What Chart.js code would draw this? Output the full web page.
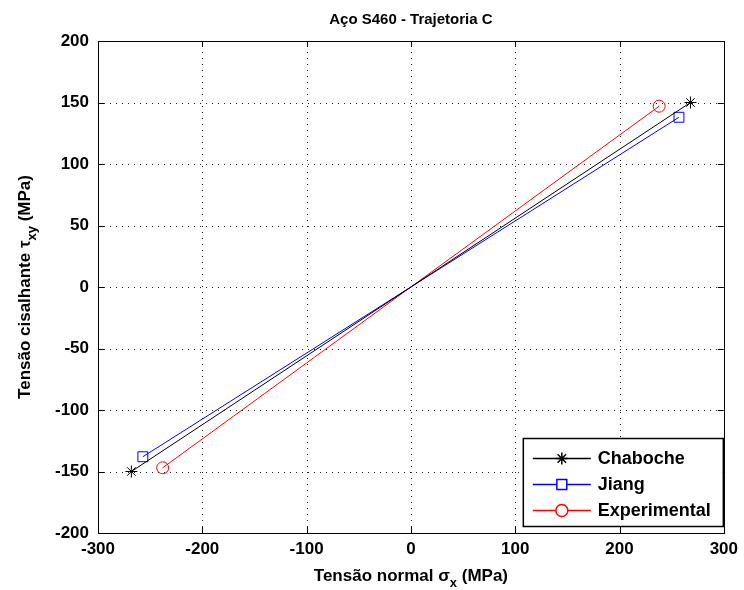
<!DOCTYPE html>
<html><head><meta charset="utf-8">
<script src="https://cdn.jsdelivr.net/npm/chart.js@4"></script>
<style>html,body{margin:0;padding:0;background:#fff}#wrap{width:744px;height:590px}</style>
</head><body><div id="wrap"><canvas id="c" width="744" height="590"></canvas></div>
<script>
const seriesNames = ['Chaboche', 'Jiang', 'Experimental'];
const chabocheX = [-268, 268];
const chabocheY = [-150, 150];
const jiangX = [-257, 257];
const jiangY = [-138, 138];
const expX = [-238, 238];
const expY = [-147, 147];
const xTicks = [-300, -200, -100, 0, 100, 200, 300];
const yTicks = [-200, -150, -100, -50, 0, 50, 100, 150, 200];
const titleText = 'Aço S460 - Trajetoria C';

const FONT = '"Liberation Sans", Arial, sans-serif';
const toPts = (xs, ys) => xs.map((x, i) => ({x, y: ys[i]}));

const gridPlugin = {
  id: 'gridPlugin',
  beforeDatasetsDraw(chart) {
    const {ctx, chartArea: a, scales: {x, y}} = chart;
    ctx.save();
    ctx.strokeStyle = '#222'; ctx.lineWidth = 1;
    ctx.setLineDash([1, 5]);
    ctx.beginPath();
    xTicks.forEach(v => {
      const px = Math.round(x.getPixelForValue(v)) + 0.5;
      ctx.moveTo(px, a.bottom); ctx.lineTo(px, a.top);
    });
    yTicks.forEach(v => {
      const py = Math.round(y.getPixelForValue(v)) + 0.5;
      ctx.moveTo(a.left, py); ctx.lineTo(a.right, py);
    });
    ctx.stroke();
    ctx.restore();
  }
};

const inwardTicks = {
  id: 'inwardTicks',
  afterDatasetsDraw(chart) {
    const {ctx, chartArea: a, scales: {x, y}} = chart;
    ctx.save();
    ctx.strokeStyle = '#000'; ctx.lineWidth = 1;
    ctx.beginPath();
    xTicks.forEach(v => {
      const px = Math.round(x.getPixelForValue(v)) + 0.5;
      ctx.moveTo(px, a.bottom); ctx.lineTo(px, a.bottom - 6);
      ctx.moveTo(px, a.top); ctx.lineTo(px, a.top + 6);
    });
    yTicks.forEach(v => {
      const py = Math.round(y.getPixelForValue(v)) + 0.5;
      ctx.moveTo(a.left, py); ctx.lineTo(a.left + 6, py);
      ctx.moveTo(a.right, py); ctx.lineTo(a.right - 6, py);
    });
    ctx.stroke();
    ctx.strokeRect(Math.round(a.left) + 0.5, Math.round(a.top) + 0.5, Math.round(a.right - a.left), Math.round(a.bottom - a.top));
    ctx.restore();
  }
};

const texts = {
  id: 'texts',
  afterDraw(chart) {
    const {ctx, chartArea: a} = chart;
    ctx.save();
    ctx.fillStyle = '#000';
    ctx.textBaseline = 'alphabetic';
    ctx.font = 'bold 15px ' + FONT;
    ctx.textAlign = 'center';
    ctx.fillText(titleText, (a.left + a.right) / 2, 24);
    const cx = (a.left + a.right) / 2;
    const parts = [['Tensão normal ', 17, 0], ['σ', 17, 0], ['x', 13, 6], [' (MPa)', 17, 0]];
    let w = 0;
    parts.forEach(p => { ctx.font = 'bold ' + p[1] + 'px ' + FONT; w += ctx.measureText(p[0]).width; });
    let px = cx - w / 2;
    ctx.textAlign = 'left';
    parts.forEach(p => { ctx.font = 'bold ' + p[1] + 'px ' + FONT; ctx.fillText(p[0], px, 581 + p[2]); px += ctx.measureText(p[0]).width; });
    ctx.translate(30, (a.top + a.bottom) / 2);
    ctx.rotate(-Math.PI / 2);
    const yparts = [['Tensão cisalhante ', 17, 0], ['τ', 17, 0], ['xy', 13, 6], [' (MPa)', 17, 0]];
    w = 0;
    yparts.forEach(p => { ctx.font = 'bold ' + p[1] + 'px ' + FONT; w += ctx.measureText(p[0]).width; });
    px = -w / 2;
    yparts.forEach(p => { ctx.font = 'bold ' + p[1] + 'px ' + FONT; ctx.fillText(p[0], px, p[2]); px += ctx.measureText(p[0]).width; });
    ctx.restore();
  }
};

const legendBox = {
  id: 'legendBox',
  afterDraw(chart) {
    const {ctx, chartArea: a} = chart;
    const bw = 200, bh = 88;
    const bx = a.right - 1 - bw, by = a.bottom - 7 - bh;
    ctx.save();
    ctx.fillStyle = '#fff';
    ctx.fillRect(bx, by, bw, bh);
    ctx.strokeStyle = '#000'; ctx.lineWidth = 1.5;
    ctx.strokeRect(bx + 0.5, by + 0.5, bw, bh);
    chart.data.datasets.forEach((ds, i) => {
      const ly = by + 20 + i * 26;
      ctx.strokeStyle = ds.borderColor; ctx.lineWidth = 1.5;
      ctx.beginPath(); ctx.moveTo(bx + 10, ly + 0.5); ctx.lineTo(bx + 68, ly + 0.5); ctx.stroke();
      ctx.fillStyle = '#fff';
      ctx.strokeStyle = ds.borderColor;
      Chart.helpers.drawPoint(ctx, {pointStyle: ds.pointStyle, radius: ds.pointRadius, borderWidth: 1.5}, bx + 39, ly + 0.5);
      ctx.fillStyle = '#000';
      ctx.font = 'bold 18px ' + FONT;
      ctx.textAlign = 'left'; ctx.textBaseline = 'middle';
      ctx.fillText(ds.label, bx + 75, ly + 1);
    });
    ctx.restore();
  }
};

const mk = (label, xs, ys, color, style, r) => ({
  label, data: toPts(xs, ys), borderColor: color, backgroundColor: 'transparent',
  borderWidth: 1, pointStyle: style, pointRadius: r, pointBorderColor: color,
  pointBackgroundColor: 'transparent', pointBorderWidth: 1, showLine: true, tension: 0
});

new Chart(document.getElementById('c'), {
  type: 'scatter',
  data: {
    datasets: [
      mk(seriesNames[0], chabocheX, chabocheY, '#000000', 'star', 6),
      mk(seriesNames[1], jiangX, jiangY, '#0000ff', 'rect', 7),
      mk(seriesNames[2], expX, expY, '#ff0000', 'circle', 6)
    ]
  },
  options: {
    responsive: false, animation: false, devicePixelRatio: 1,
    layout: {padding: {left: 0, top: 41, right: 16, bottom: 0}},
    plugins: {legend: {display: false}, title: {display: false}, tooltip: {enabled: false}},
    scales: {
      x: {
        type: 'linear', min: -300, max: 300,
        afterBuildTicks: s => { s.ticks = xTicks.map(v => ({value: v})); },
        afterFit: s => { s.height = 57; },
        border: {display: false},
        grid: {display: false, drawTicks: false},
        ticks: {color: '#000', font: {family: FONT, size: 17, weight: 'bold'}, padding: 6, maxRotation: 0}
      },
      y: {
        type: 'linear', min: -200, max: 200,
        afterBuildTicks: s => { s.ticks = yTicks.map(v => ({value: v})); },
        afterFit: s => { s.width = 98; },
        border: {display: false},
        grid: {display: false, drawTicks: false},
        ticks: {color: '#000', font: {family: FONT, size: 17, weight: 'bold'}, padding: 9}
      }
    }
  },
  plugins: [gridPlugin, inwardTicks, texts, legendBox]
});
</script></body></html>
